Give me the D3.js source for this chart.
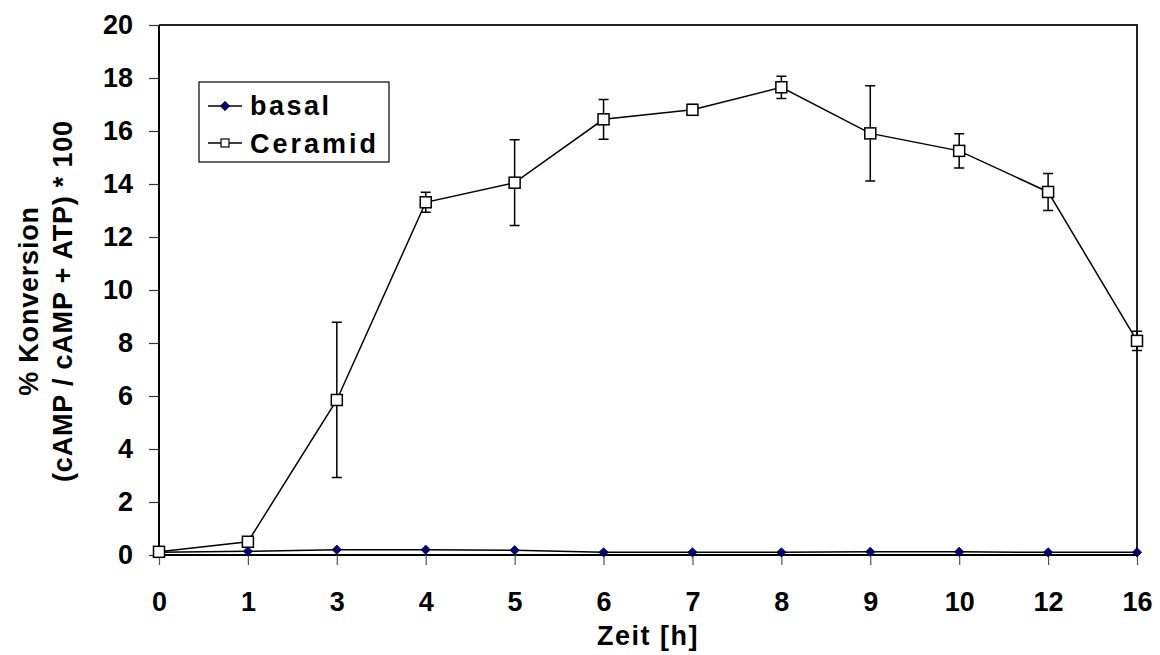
<!DOCTYPE html>
<html>
<head>
<meta charset="utf-8">
<script src="https://cdn.jsdelivr.net/npm/d3@7"></script>
<style>
  body { margin: 0; background: #fff; }
  text { font-family: "Liberation Sans", Arial, sans-serif; font-weight: bold; }
</style>
</head>
<body>
<svg class="chart" width="1160" height="655"></svg>
<script>
// data
var hours = ["0", "1", "3", "4", "5", "6", "7", "8", "9", "10", "12", "16"];
var basal = [0.1, 0.14, 0.2, 0.2, 0.18, 0.1, 0.1, 0.1, 0.12, 0.12, 0.1, 0.1];
var ceramid = [0.12, 0.5, 5.85, 13.31, 14.05, 16.44, 16.8, 17.65, 15.91, 15.25, 13.7, 8.08];
var ceramidErr = [0, 0, 2.93, 0.38, 1.62, 0.75, 0.2, 0.42, 1.8, 0.65, 0.7, 0.36];
var yTicks = [0, 2, 4, 6, 8, 10, 12, 14, 16, 18, 20];

var svg = d3.select('.chart');

var margin = { top: 25, right: 23, bottom: 100, left: 159 },
    width = +svg.attr("width") - margin.left - margin.right,
    height = +svg.attr("height") - margin.top - margin.bottom;

var xScale = d3.scalePoint().domain(hours).range([0, width]);
var yScale = d3.scaleLinear().domain([0, 20]).range([height, 0]);

var g = svg.append("g")
    .attr("transform", "translate(" + margin.left + "," + margin.top + ")");

// plot frame (top + right)
g.append("path")
    .attr("d", "M0,0H" + width + "V" + height)
    .attr("fill", "none")
    .attr("stroke", "#222")
    .attr("stroke-width", 2);

// axes
var yAxis = g.append("g")
    .call(d3.axisLeft(yScale).tickValues(yTicks).tickSize(10).tickPadding(16));
yAxis.select(".domain").attr("stroke-width", 2).attr("d", "M0,0V" + height);
yAxis.selectAll(".tick line").attr("stroke", "#333").attr("stroke-width", 1.2);
yAxis.selectAll("text").attr("font-size", 27).attr("fill", "#000");

var xAxis = g.append("g")
    .attr("transform", "translate(0," + height + ")")
    .call(d3.axisBottom(xScale).tickSize(10).tickPadding(27));
xAxis.select(".domain").attr("stroke-width", 2).attr("d", "M0,0H" + width);
xAxis.selectAll(".tick line").attr("stroke", "#555").attr("stroke-width", 1.2);
xAxis.selectAll("text").attr("font-size", 27).attr("fill", "#000");

// axis titles
svg.append("text")
    .attr("x", margin.left + width / 2)
    .attr("y", 645)
    .attr("text-anchor", "middle")
    .attr("font-size", 27)
    .attr("letter-spacing", 1.5)
    .text("Zeit [h]");

var yTitle = svg.append("text")
    .attr("transform", "translate(0,301) rotate(-90)")
    .attr("text-anchor", "middle")
    .attr("font-size", 27)
    .attr("letter-spacing", 0.8);
yTitle.append("tspan").attr("x", 0).attr("y", 38).text("% Konversion");
yTitle.append("tspan").attr("x", 0).attr("y", 72).text("(cAMP / cAMP + ATP) * 100");

var line = d3.line()
    .x(function (d, i) { return xScale(hours[i]); })
    .y(function (d) { return yScale(d); });

// error bars
var errData = ceramid.map(function (d, i) {
    return { hour: hours[i], value: d, err: ceramidErr[i] };
}).filter(function (d) { return d.err > 0; });

g.selectAll(".err")
    .data(errData).enter()
    .append("path")
    .attr("class", "err")
    .attr("d", function (d) {
        var x = xScale(d.hour),
            y0 = yScale(d.value - d.err),
            y1 = yScale(d.value + d.err);
        return "M" + x + "," + y0 + "V" + y1 +
            "M" + (x - 5) + "," + y0 + "H" + (x + 5) +
            "M" + (x - 5) + "," + y1 + "H" + (x + 5);
    })
    .attr("stroke", "#000")
    .attr("stroke-width", 1.5)
    .attr("fill", "none");

// lines
g.append("path")
    .datum(basal)
    .attr("d", line)
    .attr("fill", "none")
    .attr("stroke", "#000")
    .attr("stroke-width", 1.5);

g.append("path")
    .datum(ceramid)
    .attr("d", line)
    .attr("fill", "none")
    .attr("stroke", "#000")
    .attr("stroke-width", 1.5);

// markers
var diamond = d3.symbol().type(d3.symbolDiamond2).size(55);

g.selectAll(".basal")
    .data(basal).enter()
    .append("path")
    .attr("class", "basal")
    .attr("d", diamond)
    .attr("transform", function (d, i) {
        return "translate(" + xScale(hours[i]) + "," + yScale(d) + ")";
    })
    .attr("fill", "#000080")
    .attr("stroke", "#000")
    .attr("stroke-width", 0.8);

g.selectAll(".ceramid")
    .data(ceramid).enter()
    .append("rect")
    .attr("class", "ceramid")
    .attr("x", function (d, i) { return xScale(hours[i]) - 5.5; })
    .attr("y", function (d) { return yScale(d) - 5.5; })
    .attr("width", 11)
    .attr("height", 11)
    .attr("fill", "#fff")
    .attr("stroke", "#000")
    .attr("stroke-width", 1.5);

// legend
var legend = svg.append("g").attr("transform", "translate(199,82)");

legend.append("rect")
    .attr("width", 190)
    .attr("height", 80)
    .attr("fill", "#fff")
    .attr("stroke", "#000")
    .attr("stroke-width", 1.2);

legend.append("line")
    .attr("x1", 9).attr("x2", 43).attr("y1", 24).attr("y2", 24)
    .attr("stroke", "#000").attr("stroke-width", 1.5);
legend.append("path")
    .attr("d", diamond)
    .attr("transform", "translate(26,24)")
    .attr("fill", "#000080")
    .attr("stroke", "#000")
    .attr("stroke-width", 0.8);
legend.append("text")
    .attr("x", 51).attr("y", 33)
    .attr("font-size", 27)
    .attr("letter-spacing", 2.5)
    .text("basal");

legend.append("line")
    .attr("x1", 9).attr("x2", 43).attr("y1", 61).attr("y2", 61)
    .attr("stroke", "#000").attr("stroke-width", 1.5);
legend.append("rect")
    .attr("x", 22).attr("y", 57).attr("width", 8).attr("height", 8)
    .attr("fill", "#fff")
    .attr("stroke", "#000")
    .attr("stroke-width", 1.2);
legend.append("text")
    .attr("x", 51).attr("y", 71)
    .attr("font-size", 27)
    .attr("letter-spacing", 3)
    .text("Ceramid");
</script>
</body>
</html>
